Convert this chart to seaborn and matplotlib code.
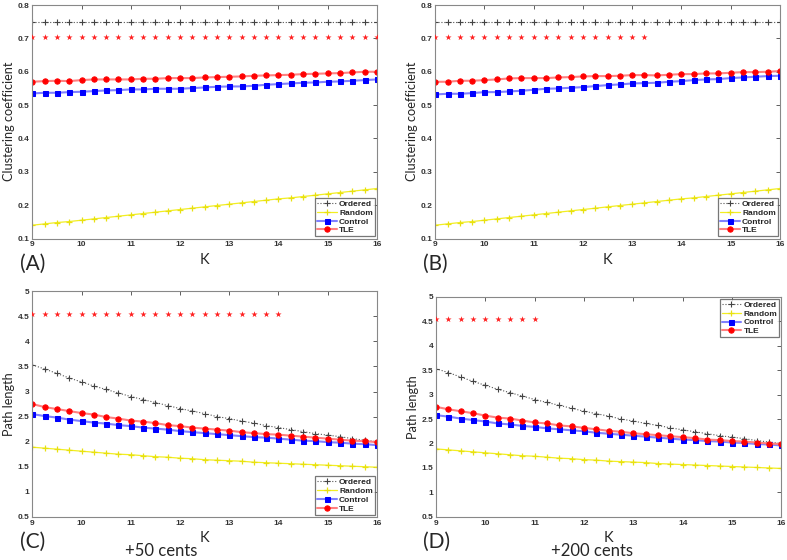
import numpy as np
import pandas as pd
import matplotlib
matplotlib.use('Agg')
import matplotlib.pyplot as plt
import seaborn as sns

sns.set_style('white')
plt.rcParams['font.family'] = ['Liberation Sans', 'DejaVu Sans']

# K values (9 .. 16 in steps of 0.25)
k_values = [9.0, 9.25, 9.5, 9.75, 10.0, 10.25, 10.5, 10.75, 11.0, 11.25, 11.5, 11.75,
            12.0, 12.25, 12.5, 12.75, 13.0, 13.25, 13.5, 13.75, 14.0, 14.25, 14.5,
            14.75, 15.0, 15.25, 15.5, 15.75, 16.0]

# clustering coefficient, panels A and B
ordered_cc = [0.75] * 29
random_cc = [0.140, 0.144, 0.148, 0.151, 0.155, 0.159, 0.163, 0.167, 0.171, 0.175,
             0.179, 0.183, 0.187, 0.191, 0.195, 0.199, 0.203, 0.207, 0.211, 0.215,
             0.219, 0.222, 0.226, 0.230, 0.234, 0.238, 0.242, 0.246, 0.250]
control_a = [0.535, 0.537, 0.537, 0.539, 0.540, 0.542, 0.544, 0.545, 0.547, 0.547,
             0.549, 0.549, 0.549, 0.551, 0.553, 0.555, 0.556, 0.556, 0.558, 0.561,
             0.563, 0.565, 0.567, 0.568, 0.570, 0.571, 0.573, 0.575, 0.577]
tle_a = [0.570, 0.572, 0.573, 0.572, 0.575, 0.577, 0.577, 0.577, 0.577, 0.579,
         0.579, 0.581, 0.581, 0.581, 0.583, 0.584, 0.585, 0.586, 0.588, 0.589,
         0.590, 0.591, 0.593, 0.594, 0.595, 0.596, 0.598, 0.600, 0.600]
control_b = [0.532, 0.534, 0.534, 0.536, 0.539, 0.539, 0.541, 0.543, 0.546, 0.549,
             0.550, 0.552, 0.554, 0.557, 0.560, 0.562, 0.565, 0.566, 0.567, 0.570,
             0.572, 0.575, 0.577, 0.578, 0.581, 0.583, 0.585, 0.587, 0.588]
tle_b = [0.570, 0.570, 0.573, 0.573, 0.575, 0.577, 0.580, 0.581, 0.581, 0.581,
         0.583, 0.584, 0.586, 0.587, 0.587, 0.588, 0.590, 0.590, 0.589, 0.591,
         0.593, 0.593, 0.595, 0.595, 0.597, 0.599, 0.599, 0.600, 0.602]
star_cc = 0.705
n_stars_a = 29
n_stars_b = 18

# path length, panels C and D
ordered_pl = [3.53, 3.45, 3.36, 3.27, 3.19, 3.11, 3.04, 2.97, 2.90, 2.84, 2.78, 2.72,
              2.66, 2.61, 2.56, 2.50, 2.46, 2.41, 2.37, 2.32, 2.28, 2.24, 2.20, 2.16,
              2.13, 2.10, 2.06, 2.03, 2.00]
random_pl = [1.89, 1.87, 1.85, 1.83, 1.81, 1.79, 1.77, 1.75, 1.74, 1.72, 1.70, 1.69,
             1.67, 1.66, 1.64, 1.63, 1.62, 1.61, 1.59, 1.58, 1.57, 1.56, 1.55, 1.54,
             1.53, 1.52, 1.51, 1.50, 1.49]
control_c = [2.55, 2.51, 2.48, 2.44, 2.41, 2.38, 2.36, 2.33, 2.31, 2.28, 2.26, 2.24,
             2.21, 2.19, 2.17, 2.15, 2.13, 2.11, 2.09, 2.08, 2.06, 2.04, 2.02, 2.01,
             1.99, 1.98, 1.96, 1.95, 1.93]
tle_c = [2.75, 2.69, 2.65, 2.61, 2.57, 2.54, 2.49, 2.46, 2.42, 2.40, 2.37, 2.33,
         2.31, 2.28, 2.26, 2.24, 2.22, 2.19, 2.17, 2.15, 2.14, 2.12, 2.10, 2.08,
         2.06, 2.04, 2.02, 2.01, 1.99]
control_d = [2.58, 2.55, 2.51, 2.48, 2.45, 2.41, 2.39, 2.36, 2.34, 2.31, 2.29, 2.27,
             2.25, 2.22, 2.20, 2.18, 2.16, 2.14, 2.12, 2.10, 2.08, 2.07, 2.05, 2.04,
             2.02, 2.01, 1.99, 1.98, 1.96]
tle_d = [2.75, 2.70, 2.66, 2.62, 2.57, 2.53, 2.51, 2.47, 2.43, 2.41, 2.37, 2.35,
         2.32, 2.29, 2.26, 2.24, 2.21, 2.19, 2.17, 2.15, 2.13, 2.11, 2.08, 2.07,
         2.05, 2.04, 2.02, 2.00, 1.99]
star_pl = 4.55
n_stars_c = 21
n_stars_d = 9

panels = [
    dict(pos=[0.041, 0.574, 0.438, 0.417], ordered=ordered_cc, random=random_cc,
         control=control_a, tle=tle_a, star=star_cc, nstar=n_stars_a,
         ylim=(0.1, 0.8), ylabel='Clustering coefficient', tag='(A)', loc='lower right',
         sub=None, subx=None),
    dict(pos=[0.553, 0.574, 0.438, 0.417], ordered=ordered_cc, random=random_cc,
         control=control_b, tle=tle_b, star=star_cc, nstar=n_stars_b,
         ylim=(0.1, 0.8), ylabel='Clustering coefficient', tag='(B)', loc='lower right',
         sub=None, subx=None),
    dict(pos=[0.041, 0.077, 0.438, 0.403], ordered=ordered_pl, random=random_pl,
         control=control_c, tle=tle_c, star=star_pl, nstar=n_stars_c,
         ylim=(0.5, 5), ylabel='Path length', tag='(C)', loc='lower right',
         sub='+50 cents', subx=0.205),
    dict(pos=[0.554, 0.077, 0.439, 0.393], ordered=ordered_pl, random=random_pl,
         control=control_d, tle=tle_d, star=star_pl, nstar=n_stars_d,
         ylim=(0.5, 5), ylabel='Path length', tag='(D)', loc='upper right',
         sub='+200 cents', subx=0.752),
]

fig = plt.figure(figsize=(7.87, 5.6), dpi=100)

for p in panels:
    ax = fig.add_axes(p['pos'])
    sns.lineplot(x=k_values, y=p['ordered'], ax=ax, color='#555555', linestyle=':',
                 linewidth=0.8, marker='+', markersize=5, markeredgewidth=0.8,
                 markeredgecolor='#444444', label='Ordered')
    sns.lineplot(x=k_values, y=p['random'], ax=ax, color='#f2ee22', linewidth=0.9,
                 marker='+', markersize=4, markeredgewidth=0.9,
                 markeredgecolor='#e8e010', label='Random')
    sns.lineplot(x=k_values, y=p['control'], ax=ax, color='#8080ff', linewidth=1.5,
                 marker='s', markersize=3.6, markerfacecolor='#0000ff',
                 markeredgecolor='#0000ff', label='Control')
    sns.lineplot(x=k_values, y=p['tle'], ax=ax, color='#ff8080', linewidth=1.5,
                 marker='o', markersize=3.8, markerfacecolor='#ff0000',
                 markeredgecolor='#ff0000', label='TLE')
    sns.scatterplot(x=k_values[:p['nstar']], y=[p['star']] * p['nstar'], ax=ax,
                    marker='*', s=22, color='#ff2020', linewidth=0, zorder=5)

    ax.set_xlim(9, 16)
    ax.set_ylim(*p['ylim'])
    ax.set_xticks(range(9, 17))
    if p['ylim'][1] == 5:
        ax.set_yticks([0.5, 1, 1.5, 2, 2.5, 3, 3.5, 4, 4.5, 5])
        ax.set_yticklabels(['0.5', '1', '1.5', '2', '2.5', '3', '3.5', '4', '4.5', '5'])
    else:
        ax.set_yticks([0.1, 0.2, 0.3, 0.4, 0.5, 0.6, 0.7, 0.8])
    ax.tick_params(direction='in', length=3, width=0.6, labelsize=6, top=True,
                   right=True, pad=2, colors='#444444', labelcolor='#333333')
    for lab in ax.get_xticklabels() + ax.get_yticklabels():
        lab.set_fontweight('bold')
    for s in ax.spines.values():
        s.set_color('#888888')
        s.set_linewidth(0.8)
    ax.set_xlabel('K', fontsize=10.5, family=['Lato', 'DejaVu Sans'], labelpad=3)
    ax.set_ylabel(p['ylabel'], fontsize=9.2, family=['Lato', 'DejaVu Sans'], labelpad=2)

    leg = ax.legend(loc=p['loc'], fontsize=6, frameon=True, fancybox=False,
                    borderpad=0.25, labelspacing=0.12, handlelength=2.3,
                    handletextpad=0.3, borderaxespad=0.25)
    leg.get_frame().set_edgecolor('#555555')
    leg.get_frame().set_linewidth(0.9)
    for t in leg.get_texts():
        t.set_fontweight('bold')

    x0 = p['pos'][0] - 0.016
    y0 = p['pos'][1] - 0.045
    fig.text(x0, y0, p['tag'], fontsize=15, family=['Lato', 'DejaVu Sans'],
             va='center', ha='left')
    if p['sub']:
        fig.text(p['subx'], 0.001, p['sub'], fontsize=12, family=['Lato', 'DejaVu Sans'],
                 va='bottom', ha='center')

fig.savefig('out.png', dpi=100)
